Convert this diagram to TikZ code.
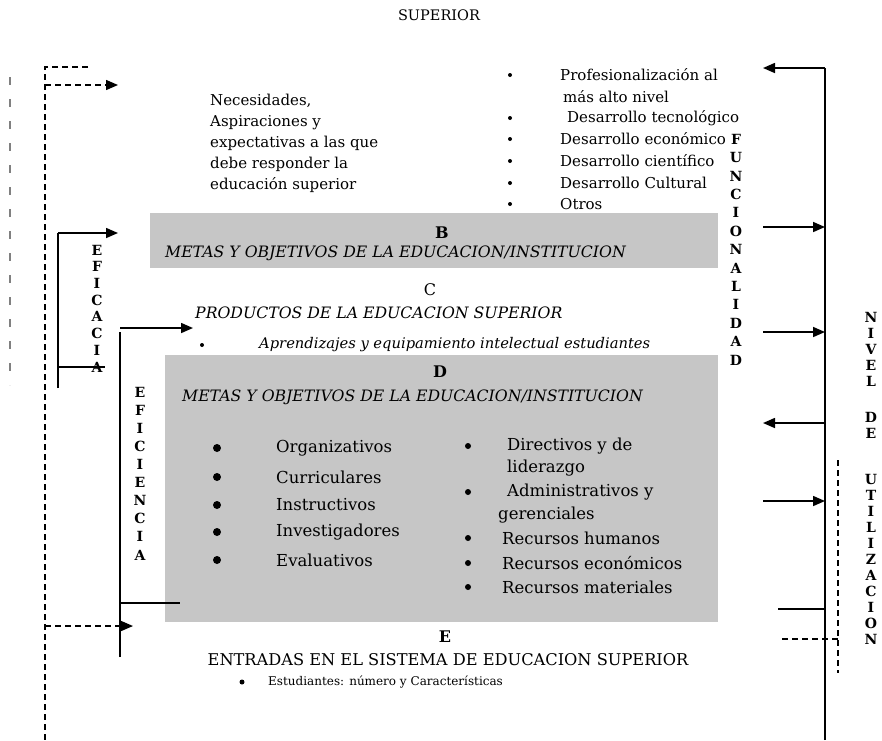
\documentclass[tikz,border=0pt]{standalone}
\usepackage{fontspec}
\setmainfont{DejaVu Serif}
\usetikzlibrary{arrows.meta,positioning}

\tikzset{
  caja/.style={fill=gray!45, draw=none, anchor=north west, inner sep=0pt},
  texto/.style={anchor=west, inner sep=0pt, font=\fontsize{15}{21}\selectfont, align=left},
  textoD/.style={anchor=west, inner sep=0pt, font=\fontsize{16.5}{20}\selectfont},
  titulo/.style={anchor=west, inner sep=0pt, font=\fontsize{15.7}{18}\selectfont\itshape},
  letra/.style={inner sep=0pt, font=\fontsize{16}{18}\selectfont\bfseries},
  vertical/.style={inner sep=0pt, align=center, font=\fontsize{14}{#1}\selectfont\bfseries},
  punto/.style={circle, fill=black, inner sep=0pt, minimum size=#1},
  flecha/.style={-{Triangle[length=12pt,width=10pt]}, line width=1.6pt},
  linea/.style={line width=1.6pt},
  discontinua/.style={dash pattern=on 6pt off 4pt, line width=1.4pt},
}

\begin{document}
\begin{tikzpicture}[x=1pt,y=-1pt]
  \useasboundingbox (0,0) rectangle (882,740);

  % Cajas grises
  \node[caja, minimum width=568pt, minimum height=55pt] (cajaB) at (150,213) {};
  \node[caja, minimum width=553pt, minimum height=267pt] (cajaD) at (165,355) {};

  % Titulo superior
  \node[inner sep=0pt, font=\fontsize{14.5}{16}\selectfont] (superior) at (439,15) {SUPERIOR};

  % Necesidades
  \node[texto] (necesidades) at (210,143) {Necesidades,\\Aspiraciones y\\expectativas a las que\\debe responder la\\educación superior};

  % Lista superior derecha
  \node[punto=4pt] (p1) at (510,75) {};
  \node[texto] (prof) at (560,75) {Profesionalización al};
  \node[texto] (alto) at (563,97) {más alto nivel};
  \node[punto=4pt] (p2) at (510,118) {};
  \node[texto] (tecno) at (567,118) {Desarrollo tecnológico};
  \node[punto=4pt] (p3) at (510,139) {};
  \node[texto] (econ) at (560,139) {Desarrollo económico};
  \node[punto=4pt] (p4) at (510,161) {};
  \node[texto] (cient) at (560,161) {Desarrollo científico};
  \node[punto=4pt] (p5) at (510,183) {};
  \node[texto] (cult) at (560,183) {Desarrollo Cultural};
  \node[punto=4pt] (p6) at (510,204) {};
  \node[texto] (otros) at (560,204) {Otros};

  % B
  \node[letra] (letraB) at (442,233) {B};
  \node[titulo] (metasB) at (165,253) {METAS Y OBJETIVOS DE LA EDUCACION/INSTITUCION};

  % C
  \node[letra, font=\fontsize{16}{18}\selectfont] (letraC) at (430,290) {C};
  \node[titulo] (productos) at (195,313) {PRODUCTOS DE LA EDUCACION SUPERIOR};
  \node[punto=4pt] (pc) at (202,345) {};
  \node[titulo, font=\fontsize{14.7}{17}\selectfont\itshape] (aprend) at (259,345) {Aprendizajes y equipamiento intelectual estudiantes};

  % D
  \node[letra] (letraD) at (440,372) {D};
  \node[titulo] (metasD) at (182,397) {METAS Y OBJETIVOS DE LA EDUCACION/INSTITUCION};

  \node[punto=8pt] (d1) at (217,448) {};
  \node[textoD] (organ) at (276,448) {Organizativos};
  \node[punto=8pt] (d2) at (217,477) {};
  \node[textoD] (curri) at (276,477) {Curriculares};
  \node[punto=8pt] (d3) at (217,505) {};
  \node[textoD] (instru) at (276,505) {Instructivos};
  \node[punto=8pt] (d4) at (217,532) {};
  \node[textoD] (inves) at (276,532) {Investigadores};
  \node[punto=8pt] (d5) at (217,560) {};
  \node[textoD] (evalu) at (276,560) {Evaluativos};

  \node[punto=6pt] (d6) at (468,446) {};
  \node[textoD] (direc) at (507,446) {Directivos y de};
  \node[textoD] (lider) at (507,468) {liderazgo};
  \node[punto=6pt] (d7) at (468,492) {};
  \node[textoD] (admin) at (507,492) {Administrativos y};
  \node[textoD] (geren) at (498,515) {gerenciales};
  \node[punto=6pt] (d8) at (468,538) {};
  \node[textoD] (rhum) at (502,538) {Recursos humanos};
  \node[punto=6pt] (d9) at (468,563) {};
  \node[textoD] (recon) at (502,563) {Recursos económicos};
  \node[punto=6pt] (d10) at (468,587) {};
  \node[textoD] (rmat) at (502,587) {Recursos materiales};

  % E
  \node[letra] (letraE) at (445,637) {E};
  \node[inner sep=0pt, font=\fontsize{16.2}{18}\selectfont] (entradas) at (448,660) {ENTRADAS EN EL SISTEMA DE EDUCACION SUPERIOR};
  \node[punto=5pt] (pe) at (242,682) {};
  \node[texto, font=\fontsize{12}{14}\selectfont] (estud) at (268,682) {Estudiantes: número y Características};

  % Letras verticales
  \node[vertical=16.7] (eficacia) at (97,308.5) {E\\F\\I\\C\\A\\C\\I\\A};
  \node[vertical=18.1] (eficiencia) at (140,473.5) {E\\F\\I\\C\\I\\E\\N\\C\\I\\A};
  \node[vertical=18.4, fill=white] (funcional) at (736,249.5) {F\\U\\N\\C\\I\\O\\N\\A\\L\\I\\D\\A\\D};
  \node[vertical=16] (nivel) at (871,478) {N\\I\\V\\E\\L\\[20pt]D\\E\\[30pt]U\\T\\I\\L\\I\\Z\\A\\C\\I\\O\\N};

  % Coordenadas de las conexiones
  \coordinate (izq-a) at (10,77);
  \coordinate (izq-b) at (10,385);
  \coordinate (lazo-sup) at (88,67);
  \coordinate (lazo-esq) at (45,67);
  \coordinate (lazo-inf) at (45,740);
  \coordinate (lazo-a) at (45,85);
  \coordinate (lazo-af) at (118,85);
  \coordinate (lazo-b) at (45,626);
  \coordinate (lazo-bf) at (133,626);

  \coordinate (ca-sup) at (58,233);
  \coordinate (ca-fin) at (118,233);
  \coordinate (ca-inf) at (58,388);
  \coordinate (ca-pie) at (58,367);
  \coordinate (ca-piefin) at (105,367);

  \coordinate (ci-sup) at (120,332);
  \coordinate (ci-arr) at (120,328);
  \coordinate (ci-fin) at (193,328);
  \coordinate (ci-inf) at (120,657);
  \coordinate (ci-pie) at (120,603);
  \coordinate (ci-piefin) at (180,603);

  \coordinate (der-sup) at (825,68);
  \coordinate (der-inf) at (825,740);
  \coordinate (der-f0) at (763,68);
  \coordinate (der-a1) at (763,227);
  \coordinate (der-b1) at (825,227);
  \coordinate (der-a2) at (763,332);
  \coordinate (der-b2) at (825,332);
  \coordinate (der-a3) at (763,423);
  \coordinate (der-b3) at (825,423);
  \coordinate (der-a4) at (763,501);
  \coordinate (der-b4) at (825,501);
  \coordinate (der-a5) at (778,609);
  \coordinate (der-b5) at (825,609);
  \coordinate (der-a6) at (782,639);
  \coordinate (der-b6) at (838,639);
  \coordinate (nivel-sup) at (838,460);
  \coordinate (nivel-inf) at (838,673);

  % Lineas discontinuas de la izquierda
  \draw[discontinua, gray, dash pattern=on 8pt off 14pt] (izq-a) -- (izq-b);
  \draw[discontinua] (lazo-sup) -- (lazo-esq) -- (lazo-inf);
  \draw[discontinua, -{Triangle[length=12pt,width=10pt]}] (lazo-a) -- (lazo-af);
  \draw[discontinua, -{Triangle[length=12pt,width=10pt]}] (lazo-b) -- (lazo-bf);

  % Eficacia
  \draw[linea] (ca-inf) -- (ca-sup);
  \draw[flecha] (ca-sup) -- (ca-fin);
  \draw[linea] (ca-pie) -- (ca-piefin);

  % Eficiencia
  \draw[linea] (ci-inf) -- (ci-sup);
  \draw[flecha] (ci-arr) -- (ci-fin);
  \draw[linea] (ci-pie) -- (ci-piefin);

  % Funcionalidad y nivel de utilizacion
  \draw[linea] (der-inf) -- (der-sup);
  \draw[flecha] (der-sup) -- (der-f0);
  \draw[flecha] (der-a1) -- (der-b1);
  \draw[flecha] (der-a2) -- (der-b2);
  \draw[flecha] (der-b3) -- (der-a3);
  \draw[flecha] (der-a4) -- (der-b4);
  \draw[linea] (der-a5) -- (der-b5);
  \draw[discontinua] (der-a6) -- (der-b6);
  \draw[discontinua] (nivel-sup) -- (nivel-inf);
\end{tikzpicture}
\end{document}
